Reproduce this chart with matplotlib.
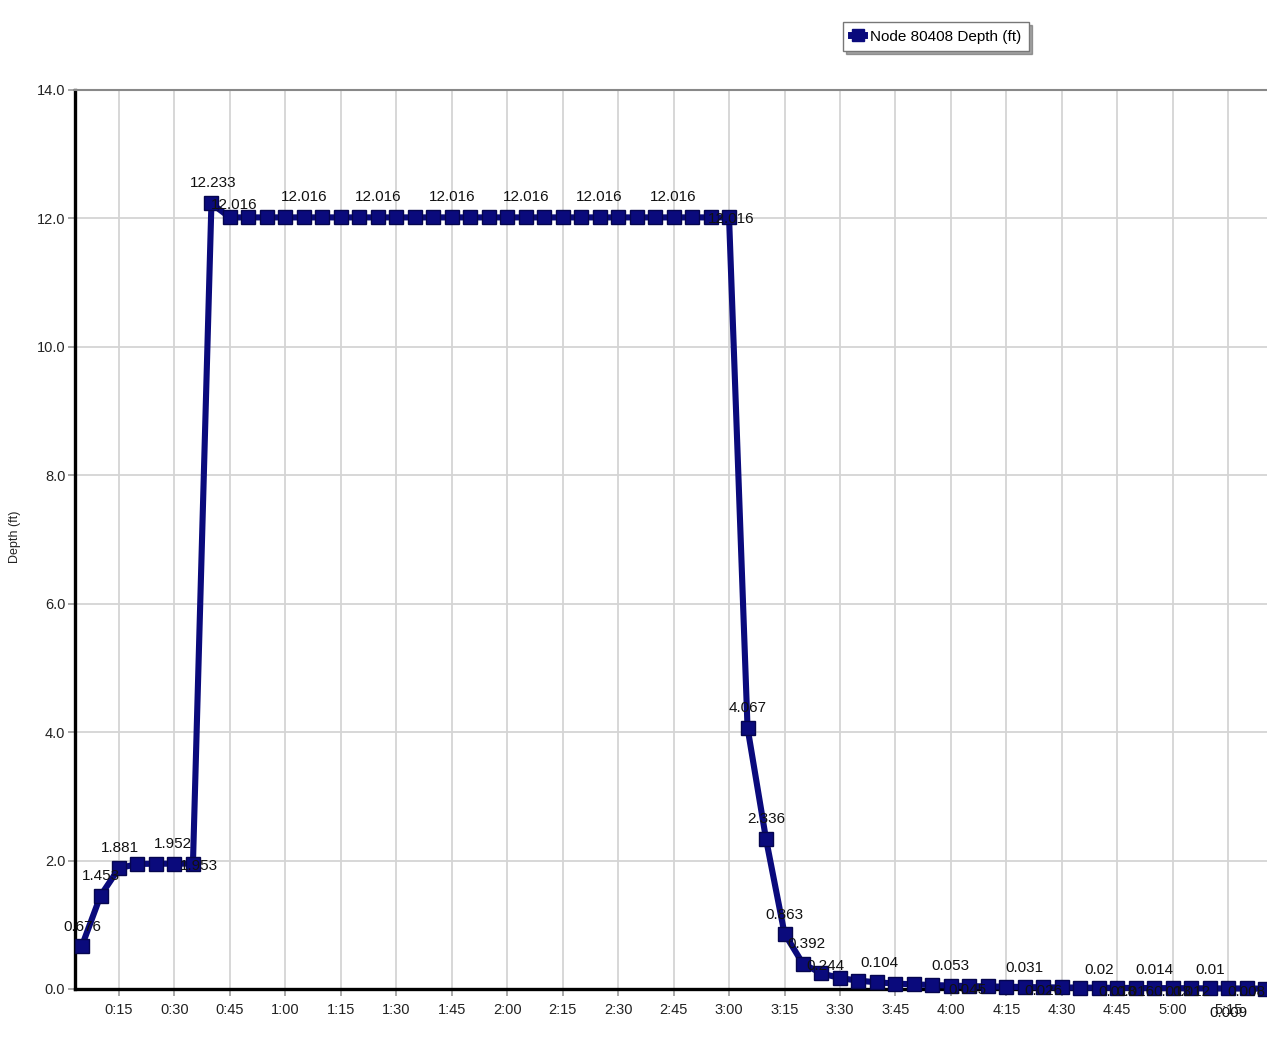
import matplotlib
matplotlib.use('Agg')
import matplotlib.pyplot as plt
from matplotlib.lines import Line2D

plt.rcParams['font.family'] = ['Liberation Sans', 'DejaVu Sans']

# minutes since start, one reading every 5 minutes
times = list(range(5, 330, 5))
depth = [0.676, 1.453, 1.881, 1.948, 1.951, 1.952, 1.953, 12.233] + [12.016] * 28 + \
        [4.067, 2.336, 0.863, 0.392, 0.244, 0.17, 0.13, 0.104, 0.085, 0.072, 0.062,
         0.053, 0.045, 0.04, 0.035, 0.031, 0.026, 0.024, 0.022, 0.02, 0.018, 0.016,
         0.014, 0.013, 0.012, 0.01, 0.009, 0.008, 0.006]
series_name = 'Node 80408 Depth (ft)'
y_label = 'Depth (ft)'
y_ticks = [0, 2, 4, 6, 8, 10, 12, 14]
x_ticks = list(range(15, 330, 15))

# which points get a value label: (index, dx px, dy px)
labels_on = [(0, 0, 19), (1, 0, 20), (2, 1, 20), (5, -2, 20), (6, 6, -2), (7, 2, 20),
             (8, 4, 12), (12, 0, 20), (16, 0, 20), (20, 0, 20), (24, 0, 20), (28, 0, 20),
             (32, 0, 20), (35, 2, -2), (36, 0, 20), (37, 0, 20), (38, 0, 19), (39, 3, 20),
             (40, 4, 7), (43, 2, 19), (47, 0, 20), (51, 0, 19), (55, 0, 18), (58, 0, 18),
             (61, 0, 18), (48, -2, -4), (52, 0, -4), (56, 0, -4), (57, 0, -4), (59, 0, -4),
             (60, 0, -4), (63, 0, -4), (62, 0, -25)]

navy = '#0a0a7c'
fig = plt.figure(figsize=(12.67, 10.39), dpi=100)
ax = fig.add_axes([75 / 1267, 50 / 1039, 1 - 75 / 1267, 899 / 1039])

ax.plot(times, depth, color=navy, lw=4.4, marker='s', ms=10, mfc=navy, mec='#05054f',
        mew=1, zorder=5, clip_on=False)

px = 72 / 100
for i, dx, dy in labels_on:
    ax.annotate(f'{depth[i]:g}', (times[i], depth[i]), xytext=(dx * px, dy * px),
                textcoords='offset points', ha='center', va='center', fontsize=11,
                color='#111111', zorder=6, annotation_clip=False)

ax.set_xlim(3.1, 325.5)
ax.set_ylim(0, 14)
ax.set_yticks(y_ticks)
ax.set_yticklabels([f'{v:.1f}' for v in y_ticks])
ax.set_xticks(x_ticks)
ax.set_xticklabels([f'{t // 60}:{t % 60:02d}' for t in x_ticks])
ax.grid(True, color='#d4d4d4', lw=1.3)
ax.set_axisbelow(True)
ax.tick_params(axis='both', labelsize=10.5, colors='#999999', labelcolor='#222222',
               length=5, width=1.2)
ax.tick_params(axis='x', pad=5)
ax.tick_params(axis='y', pad=2)

ax.spines['left'].set_color('black')
ax.spines['left'].set_linewidth(2.4)
ax.spines['bottom'].set_color('black')
ax.spines['bottom'].set_linewidth(2.4)
ax.spines['top'].set_color('#888888')
ax.spines['top'].set_linewidth(1.5)
ax.spines['right'].set_visible(False)

fig.text(15 / 1267, 1 - 537 / 1039, y_label, rotation=90, ha='center', va='center',
         fontsize=9, color='#222222')

handle = Line2D([], [], color=navy, lw=5, marker='s', ms=9, mfc=navy, mec=navy)
leg = fig.legend([handle], [series_name], loc='upper left',
                 bbox_to_anchor=(843 / 1267, 1 - 22 / 1039), borderaxespad=0,
                 fontsize=11, handlelength=0.9, handletextpad=0.4, frameon=True,
                 fancybox=False, shadow=True, borderpad=0.5)
leg.get_frame().set_edgecolor('#777777')
leg.get_frame().set_linewidth(1.0)

fig.savefig('out.png', dpi=100)
